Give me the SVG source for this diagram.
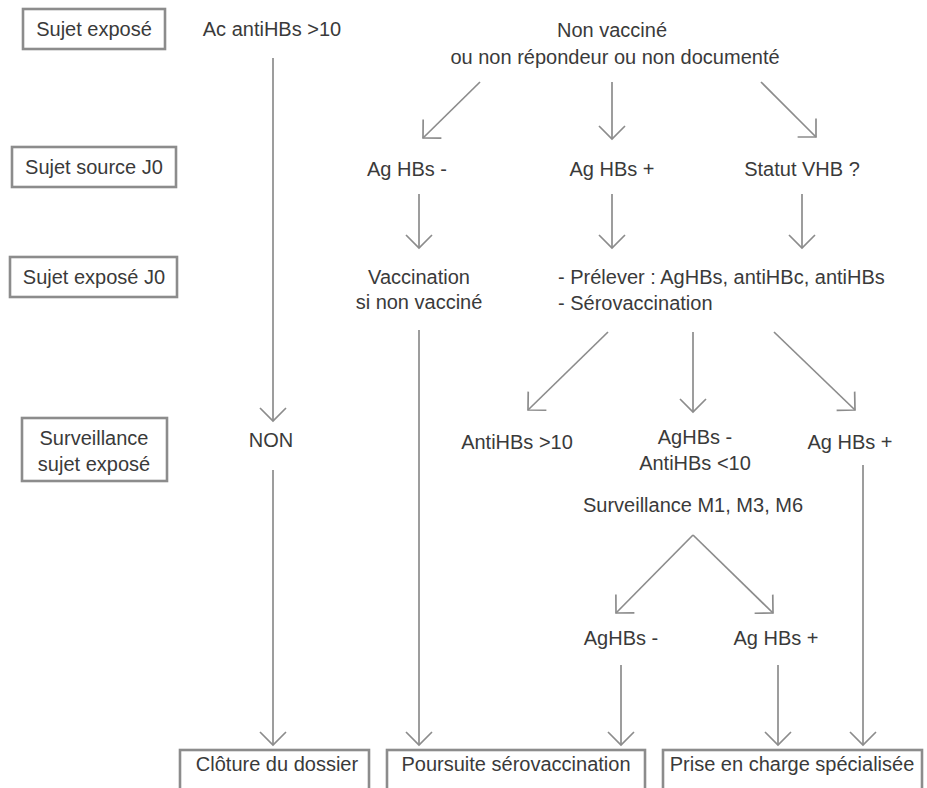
<svg xmlns="http://www.w3.org/2000/svg" width="927" height="788" viewBox="0 0 927 788">
  <defs>
    <marker id="arrow" markerUnits="userSpaceOnUse" viewBox="-16 -16 20 32" refX="0" refY="0" markerWidth="20" markerHeight="32" orient="auto">
      <path d="M-13,-13 L0,0 L-13,13" fill="none" stroke="#8c8c8c" stroke-width="1.7"/>
    </marker>
    <style>
      text { font-family: "Liberation Sans", Arial, Helvetica, sans-serif; font-size: 20px; fill: #3a3a3a; text-anchor: middle; }
      text.start { text-anchor: start; }
      .box { fill: #ffffff; stroke: #8c8c8c; stroke-width: 2.6; }
      .link { fill: none; stroke: #8c8c8c; stroke-width: 1.7; marker-end: url(#arrow); }
    </style>
  </defs>

  <rect width="927" height="788" fill="#ffffff"/>

  <!-- connectors -->
  <g id="connectors">
    <line class="link" x1="273" y1="58" x2="273" y2="421"/>
    <line class="link" x1="273" y1="470" x2="273" y2="745"/>

    <line class="link" x1="480" y1="82" x2="423" y2="138"/>
    <line class="link" x1="612" y1="82" x2="612" y2="139"/>
    <line class="link" x1="761" y1="82" x2="816" y2="137"/>

    <line class="link" x1="419" y1="194" x2="419" y2="248"/>
    <line class="link" x1="612" y1="194" x2="612" y2="248"/>
    <line class="link" x1="802" y1="194" x2="802" y2="248"/>

    <line class="link" x1="419" y1="330" x2="419" y2="745"/>

    <line class="link" x1="608" y1="332" x2="528" y2="410"/>
    <line class="link" x1="693" y1="332" x2="693" y2="412"/>
    <line class="link" x1="774" y1="332" x2="855" y2="410"/>

    <line class="link" x1="863" y1="465" x2="863" y2="745"/>

    <line class="link" x1="693" y1="535" x2="616" y2="613"/>
    <line class="link" x1="693" y1="535" x2="773" y2="613"/>

    <line class="link" x1="621" y1="665" x2="621" y2="745"/>
    <line class="link" x1="778" y1="665" x2="778" y2="745"/>
  </g>

  <!-- row labels (left column) -->
  <g id="row-sujet-expose">
    <rect class="box" x="23" y="9" width="142" height="40"/>
    <text x="94" y="36">Sujet exposé</text>
  </g>
  <g id="row-sujet-source-j0">
    <rect class="box" x="12" y="147" width="164" height="40"/>
    <text x="94" y="174">Sujet source J0</text>
  </g>
  <g id="row-sujet-expose-j0">
    <rect class="box" x="10" y="257" width="167" height="40"/>
    <text x="94" y="284">Sujet exposé J0</text>
  </g>
  <g id="row-surveillance">
    <rect class="box" x="22" y="418" width="145" height="63"/>
    <text x="94" y="445">Surveillance</text>
    <text x="94" y="471">sujet exposé</text>
  </g>

  <!-- exposed subject status -->
  <g id="ac-antihbs">
    <text x="272" y="36">Ac antiHBs &gt;10</text>
  </g>
  <g id="non-vaccine">
    <text x="612" y="37">Non vacciné</text>
    <text x="615" y="64">ou non répondeur ou non documenté</text>
  </g>

  <!-- source subject at J0 -->
  <g id="source-ag-neg">
    <text x="407" y="176">Ag HBs -</text>
  </g>
  <g id="source-ag-pos">
    <text x="612" y="176">Ag HBs +</text>
  </g>
  <g id="source-unknown">
    <text x="802" y="176">Statut VHB ?</text>
  </g>

  <!-- exposed subject at J0 -->
  <g id="vaccination">
    <text x="419" y="284">Vaccination</text>
    <text x="419" y="309">si non vacciné</text>
  </g>
  <g id="prelever">
    <text class="start" x="558" y="284">- Prélever : AgHBs, antiHBc, antiHBs</text>
    <text class="start" x="558" y="310">- Sérovaccination</text>
  </g>

  <!-- follow-up -->
  <g id="non">
    <text x="271" y="447">NON</text>
  </g>
  <g id="antihbs-sup10">
    <text x="517" y="449">AntiHBs &gt;10</text>
  </g>
  <g id="aghbs-neg-antihbs-inf10">
    <text x="695" y="444">AgHBs -</text>
    <text x="695" y="470">AntiHBs &lt;10</text>
  </g>
  <g id="aghbs-pos">
    <text x="850" y="449">Ag HBs +</text>
  </g>
  <g id="surveillance-m">
    <text x="693" y="512">Surveillance M1, M3, M6</text>
  </g>
  <g id="m-aghbs-neg">
    <text x="621" y="645">AgHBs -</text>
  </g>
  <g id="m-aghbs-pos">
    <text x="776" y="645">Ag HBs +</text>
  </g>

  <!-- outcomes -->
  <g id="cloture">
    <rect class="box" x="180" y="750" width="189" height="45"/>
    <text x="277" y="771">Clôture du dossier</text>
  </g>
  <g id="poursuite">
    <rect class="box" x="387" y="750" width="258" height="45"/>
    <text x="516" y="771">Poursuite sérovaccination</text>
  </g>
  <g id="prise-en-charge">
    <rect class="box" x="663" y="750" width="259" height="45"/>
    <text x="792" y="771">Prise en charge spécialisée</text>
  </g>
</svg>
